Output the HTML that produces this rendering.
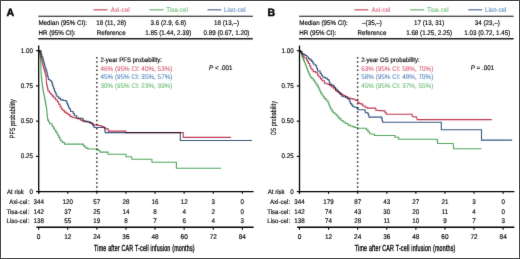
<!DOCTYPE html>
<html><head><meta charset="utf-8"><style>
html,body{margin:0;padding:0;background:#fff;width:520px;height:259px;overflow:hidden}
svg{display:block;will-change:transform}

text{font-family:"Liberation Sans",sans-serif;stroke-width:0.15px;text-rendering:geometricPrecision}
</style></head><body>
<svg width="520" height="259" viewBox="0 0 520 259">
<defs><filter id="bl" x="-5%" y="-5%" width="110%" height="110%"><feConvolveMatrix order="3" kernelMatrix="0.0064 0.0672 0.0064 0.0672 0.7056 0.0672 0.0064 0.0672 0.0064" edgeMode="none" preserveAlpha="false"/></filter></defs>
<rect x="0" y="0" width="520" height="259" fill="#fff"/>
<g filter="url(#bl)">
<text x="6.60" y="15.7" font-size="10.6" font-weight="bold" fill="#000" stroke="#000" style="stroke-width:0.45px">A</text>
<line x1="93.60" y1="9.8" x2="107.50" y2="9.8" stroke="#c9586f" stroke-width="1.3"/>
<text transform="translate(110.80,11.50) scale(0.935,1)" font-size="6.70" fill="#d55a74" stroke="#d55a74" style="stroke-width:0.08px">Axi-cel</text>
<line x1="149.40" y1="9.8" x2="163.50" y2="9.8" stroke="#78b67d" stroke-width="1.3"/>
<text transform="translate(166.20,11.50) scale(0.935,1)" font-size="6.70" fill="#6cbd74" stroke="#6cbd74" style="stroke-width:0.08px">Tisa-cel</text>
<line x1="207.50" y1="9.8" x2="221.30" y2="9.8" stroke="#5b7da2" stroke-width="1.3"/>
<text transform="translate(224.10,11.50) scale(0.935,1)" font-size="6.70" fill="#5587bd" stroke="#5587bd" style="stroke-width:0.08px">Liso-cel</text>
<line x1="38.30" y1="16.2" x2="252.80" y2="16.2" stroke="#111" stroke-width="1.1"/>
<line x1="38.30" y1="38.8" x2="252.80" y2="38.8" stroke="#222" stroke-width="1.5"/>
<text transform="translate(38.40,24.80) scale(0.935,1)" font-size="6.70" fill="#000" stroke="#000">Median (95% CI):</text>
<text transform="translate(38.40,34.50) scale(0.935,1)" font-size="6.70" fill="#000" stroke="#000">HR (95% CI):</text>
<text transform="translate(111.20,24.80) scale(0.935,1)" font-size="6.70" fill="#000" stroke="#000" text-anchor="middle">18 (11, 28)</text>
<text transform="translate(111.20,34.50) scale(0.935,1)" font-size="6.70" fill="#000" stroke="#000" text-anchor="middle">Reference</text>
<text transform="translate(168.30,24.80) scale(0.935,1)" font-size="6.70" fill="#000" stroke="#000" text-anchor="middle">3.6 (2.9, 6.8)</text>
<text transform="translate(168.30,34.50) scale(0.935,1)" font-size="6.70" fill="#000" stroke="#000" text-anchor="middle">1.85 (1.44, 2.39)</text>
<text transform="translate(226.50,24.80) scale(0.935,1)" font-size="6.70" fill="#000" stroke="#000" text-anchor="middle">18 (13,–)</text>
<text transform="translate(226.50,34.50) scale(0.935,1)" font-size="6.70" fill="#000" stroke="#000" text-anchor="middle">0.89 (0.67, 1.20)</text>
<line x1="38.70" y1="45.6" x2="38.70" y2="193.6" stroke="#000" stroke-width="1.3"/>
<line x1="36.00" y1="50.70" x2="38.70" y2="50.70" stroke="#000" stroke-width="1.1"/>
<text transform="translate(33.00,52.80) scale(0.935,1)" font-size="6.70" fill="#000" stroke="#000" text-anchor="end">1.00</text>
<line x1="36.00" y1="85.92" x2="38.70" y2="85.92" stroke="#000" stroke-width="1.1"/>
<text transform="translate(33.00,88.02) scale(0.935,1)" font-size="6.70" fill="#000" stroke="#000" text-anchor="end">0.75</text>
<line x1="36.00" y1="121.15" x2="38.70" y2="121.15" stroke="#000" stroke-width="1.1"/>
<text transform="translate(33.00,123.25) scale(0.935,1)" font-size="6.70" fill="#000" stroke="#000" text-anchor="end">0.50</text>
<line x1="36.00" y1="156.38" x2="38.70" y2="156.38" stroke="#000" stroke-width="1.1"/>
<text transform="translate(33.00,158.47) scale(0.935,1)" font-size="6.70" fill="#000" stroke="#000" text-anchor="end">0.25</text>
<line x1="36.00" y1="191.60" x2="38.70" y2="191.60" stroke="#000" stroke-width="1.1"/>
<text transform="translate(33.00,193.70) scale(0.935,1)" font-size="6.70" fill="#000" stroke="#000" text-anchor="end">0</text>
<line x1="38.20" y1="191.6" x2="253.60" y2="191.6" stroke="#000" stroke-width="1.4"/>
<line x1="36.40" y1="227.3" x2="253.60" y2="227.3" stroke="#000" stroke-width="1.4"/>
<line x1="38.65" y1="191.6" x2="38.65" y2="193.8" stroke="#000" stroke-width="1.1"/>
<line x1="38.65" y1="227.3" x2="38.65" y2="229.7" stroke="#000" stroke-width="1.1"/>
<text transform="translate(38.65,238.70) scale(0.935,1)" font-size="6.91" fill="#000" stroke="#000" text-anchor="middle">0</text>
<line x1="67.75" y1="191.6" x2="67.75" y2="193.8" stroke="#000" stroke-width="1.1"/>
<line x1="67.75" y1="227.3" x2="67.75" y2="229.7" stroke="#000" stroke-width="1.1"/>
<text transform="translate(67.75,238.70) scale(0.935,1)" font-size="6.91" fill="#000" stroke="#000" text-anchor="middle">12</text>
<line x1="96.85" y1="191.6" x2="96.85" y2="193.8" stroke="#000" stroke-width="1.1"/>
<line x1="96.85" y1="227.3" x2="96.85" y2="229.7" stroke="#000" stroke-width="1.1"/>
<text transform="translate(96.85,238.70) scale(0.935,1)" font-size="6.91" fill="#000" stroke="#000" text-anchor="middle">24</text>
<line x1="125.95" y1="191.6" x2="125.95" y2="193.8" stroke="#000" stroke-width="1.1"/>
<line x1="125.95" y1="227.3" x2="125.95" y2="229.7" stroke="#000" stroke-width="1.1"/>
<text transform="translate(125.95,238.70) scale(0.935,1)" font-size="6.91" fill="#000" stroke="#000" text-anchor="middle">36</text>
<line x1="155.05" y1="191.6" x2="155.05" y2="193.8" stroke="#000" stroke-width="1.1"/>
<line x1="155.05" y1="227.3" x2="155.05" y2="229.7" stroke="#000" stroke-width="1.1"/>
<text transform="translate(155.05,238.70) scale(0.935,1)" font-size="6.91" fill="#000" stroke="#000" text-anchor="middle">48</text>
<line x1="184.15" y1="191.6" x2="184.15" y2="193.8" stroke="#000" stroke-width="1.1"/>
<line x1="184.15" y1="227.3" x2="184.15" y2="229.7" stroke="#000" stroke-width="1.1"/>
<text transform="translate(184.15,238.70) scale(0.935,1)" font-size="6.91" fill="#000" stroke="#000" text-anchor="middle">60</text>
<line x1="213.25" y1="191.6" x2="213.25" y2="193.8" stroke="#000" stroke-width="1.1"/>
<line x1="213.25" y1="227.3" x2="213.25" y2="229.7" stroke="#000" stroke-width="1.1"/>
<text transform="translate(213.25,238.70) scale(0.935,1)" font-size="6.91" fill="#000" stroke="#000" text-anchor="middle">72</text>
<line x1="242.35" y1="191.6" x2="242.35" y2="193.8" stroke="#000" stroke-width="1.1"/>
<line x1="242.35" y1="227.3" x2="242.35" y2="229.7" stroke="#000" stroke-width="1.1"/>
<text transform="translate(242.35,238.70) scale(0.935,1)" font-size="6.91" fill="#000" stroke="#000" text-anchor="middle">84</text>
<text transform="translate(7.00,193.90) scale(0.935,1)" font-size="6.48" fill="#000" stroke="#000">At risk</text>
<text transform="translate(29.60,203.60) scale(0.935,1)" font-size="6.48" fill="#000" stroke="#000" text-anchor="end">Axi-cel<tspan dx="0.6">:</tspan></text>
<text transform="translate(38.65,203.60) scale(0.935,1)" font-size="6.70" fill="#000" stroke="#000" text-anchor="middle">344</text>
<text transform="translate(67.75,203.60) scale(0.935,1)" font-size="6.70" fill="#000" stroke="#000" text-anchor="middle">120</text>
<text transform="translate(96.85,203.60) scale(0.935,1)" font-size="6.70" fill="#000" stroke="#000" text-anchor="middle">57</text>
<text transform="translate(125.95,203.60) scale(0.935,1)" font-size="6.70" fill="#000" stroke="#000" text-anchor="middle">28</text>
<text transform="translate(155.05,203.60) scale(0.935,1)" font-size="6.70" fill="#000" stroke="#000" text-anchor="middle">16</text>
<text transform="translate(184.15,203.60) scale(0.935,1)" font-size="6.70" fill="#000" stroke="#000" text-anchor="middle">12</text>
<text transform="translate(213.25,203.60) scale(0.935,1)" font-size="6.70" fill="#000" stroke="#000" text-anchor="middle">3</text>
<text transform="translate(242.35,203.60) scale(0.935,1)" font-size="6.70" fill="#000" stroke="#000" text-anchor="middle">0</text>
<text transform="translate(29.60,213.50) scale(0.935,1)" font-size="6.48" fill="#000" stroke="#000" text-anchor="end">Tisa-cel<tspan dx="0.6">:</tspan></text>
<text transform="translate(38.65,213.50) scale(0.935,1)" font-size="6.70" fill="#000" stroke="#000" text-anchor="middle">142</text>
<text transform="translate(67.75,213.50) scale(0.935,1)" font-size="6.70" fill="#000" stroke="#000" text-anchor="middle">37</text>
<text transform="translate(96.85,213.50) scale(0.935,1)" font-size="6.70" fill="#000" stroke="#000" text-anchor="middle">25</text>
<text transform="translate(125.95,213.50) scale(0.935,1)" font-size="6.70" fill="#000" stroke="#000" text-anchor="middle">14</text>
<text transform="translate(155.05,213.50) scale(0.935,1)" font-size="6.70" fill="#000" stroke="#000" text-anchor="middle">8</text>
<text transform="translate(184.15,213.50) scale(0.935,1)" font-size="6.70" fill="#000" stroke="#000" text-anchor="middle">4</text>
<text transform="translate(213.25,213.50) scale(0.935,1)" font-size="6.70" fill="#000" stroke="#000" text-anchor="middle">2</text>
<text transform="translate(242.35,213.50) scale(0.935,1)" font-size="6.70" fill="#000" stroke="#000" text-anchor="middle">0</text>
<text transform="translate(29.60,223.40) scale(0.935,1)" font-size="6.48" fill="#000" stroke="#000" text-anchor="end">Liso-cel<tspan dx="0.6">:</tspan></text>
<text transform="translate(38.65,223.40) scale(0.935,1)" font-size="6.70" fill="#000" stroke="#000" text-anchor="middle">138</text>
<text transform="translate(67.75,223.40) scale(0.935,1)" font-size="6.70" fill="#000" stroke="#000" text-anchor="middle">55</text>
<text transform="translate(96.85,223.40) scale(0.935,1)" font-size="6.70" fill="#000" stroke="#000" text-anchor="middle">19</text>
<text transform="translate(125.95,223.40) scale(0.935,1)" font-size="6.70" fill="#000" stroke="#000" text-anchor="middle">8</text>
<text transform="translate(155.05,223.40) scale(0.935,1)" font-size="6.70" fill="#000" stroke="#000" text-anchor="middle">7</text>
<text transform="translate(184.15,223.40) scale(0.935,1)" font-size="6.70" fill="#000" stroke="#000" text-anchor="middle">6</text>
<text transform="translate(213.25,223.40) scale(0.935,1)" font-size="6.70" fill="#000" stroke="#000" text-anchor="middle">4</text>
<text transform="translate(242.35,223.40) scale(0.935,1)" font-size="6.70" fill="#000" stroke="#000" text-anchor="middle">3</text>
<text transform="translate(144.40,250.7) scale(0.61,1)" font-size="8.8" fill="#000" stroke="#000" style="stroke-width:0.35px;letter-spacing:0.3px" text-anchor="middle">Time after CAR T-cell infusion (months)</text>
<text transform="translate(15.30,118.75) rotate(-90) scale(0.7,1)" font-size="7.6" fill="#000" stroke="#000" style="stroke-width:0.15px;letter-spacing:0.3px" text-anchor="middle">PFS probability</text>
<line x1="96.85" y1="57.1" x2="96.85" y2="191" stroke="#2a2a2a" stroke-width="1.5" stroke-dasharray="1.5 2.67"/>
<text transform="translate(100.40,62.30) scale(0.935,1)" font-size="6.48" fill="#000" stroke="#000">2-year PFS probability:</text>
<text transform="translate(100.40,71.00) scale(0.935,1)" font-size="6.80" fill="#d55a74" stroke="#d55a74" style="stroke-width:0.08px">46% (95% CI: 40%, 53%)</text>
<text transform="translate(100.40,79.35) scale(0.935,1)" font-size="6.80" fill="#5587bd" stroke="#5587bd" style="stroke-width:0.08px">45% (95% CI: 35%, 57%)</text>
<text transform="translate(100.40,87.70) scale(0.935,1)" font-size="6.80" fill="#6cbd74" stroke="#6cbd74" style="stroke-width:0.08px">30% (95% CI: 23%, 39%)</text>
<text transform="translate(209.00,70.30) scale(0.935,1)" font-size="6.70" fill="#000" stroke="#000"><tspan font-style="italic">P</tspan> &lt; .001</text>
<polyline points="38.65,50.60 39.70,50.60 39.70,51.20 40.30,57.40 40.42,57.40 40.42,59.36 40.54,59.36 40.54,61.32 40.66,61.32 40.66,63.28 40.78,63.28 40.78,65.24 40.90,65.24 40.90,67.20 41.30,77.00 41.55,77.00 41.55,79.07 41.80,79.07 41.80,81.13 42.05,81.13 42.05,83.20 42.30,83.20 42.30,85.27 42.55,85.27 42.55,87.33 42.80,87.33 42.80,89.40 43.18,89.40 43.18,91.36 43.56,91.36 43.56,93.32 43.94,93.32 43.94,95.28 44.32,95.28 44.32,97.24 44.70,97.24 44.70,99.20 45.06,99.20 45.06,101.16 45.42,101.16 45.42,103.12 45.78,103.12 45.78,105.08 46.14,105.08 46.14,107.04 46.50,107.04 46.50,109.00 46.70,109.00 46.70,110.85 46.90,110.85 46.90,112.70 47.10,112.70 47.10,114.55 47.30,114.55 47.30,116.40 47.50,116.40 47.50,118.25 47.70,118.25 47.70,120.10 48.65,120.10 48.65,121.95 49.60,121.95 49.60,123.80 52.10,123.80 52.10,126.30 53.30,126.30 53.30,128.15 54.50,128.15 54.50,130.00 55.75,130.00 55.75,131.85 57.00,131.85 57.00,133.70 57.92,133.70 57.92,135.52 58.85,135.52 58.85,137.35 59.78,137.35 59.78,139.18 60.70,139.18 60.70,141.00 62.55,141.00 62.55,142.55 64.40,142.55 64.40,144.10 81.70,144.10 83.25,144.10 83.25,145.65 84.80,145.65 84.80,147.20 86.35,147.20 86.35,148.10 87.90,148.10 87.90,149.00 96.60,149.00 98.30,149.00 98.30,150.55 100.00,150.55 100.00,152.10 108.00,152.10 108.00,154.20 126.00,154.20 126.00,156.70 131.50,156.70 131.90,159.30 151.90,159.30 151.90,162.30 176.40,162.30 176.40,168.30 221.10,168.30" fill="none" stroke="#52a55c" stroke-width="1.1" stroke-linejoin="miter" style="mix-blend-mode:multiply"/>
<polyline points="38.65,50.60 39.70,50.60 39.70,52.40 40.30,52.40 40.30,54.90 40.90,54.90 40.90,57.40 41.55,57.40 41.55,59.85 42.20,59.85 42.20,62.30 42.60,62.30 42.60,64.15 43.00,64.15 43.00,66.00 43.50,66.00 43.50,67.85 44.00,67.85 44.00,69.70 44.65,69.70 44.65,71.85 45.30,71.85 45.30,74.00 45.70,74.00 45.70,75.50 46.10,75.50 46.10,77.00 46.60,84.40 47.07,84.40 47.07,86.60 47.53,86.60 47.53,88.80 48.00,88.80 48.00,91.00 49.40,91.00 49.40,92.75 50.80,92.75 50.80,94.50 52.30,94.50 52.30,96.15 53.80,96.15 53.80,97.80 55.50,97.80 55.50,99.80 57.20,99.80 57.20,101.80 58.65,101.80 58.65,104.25 60.10,104.25 60.10,106.70 61.30,106.70 61.30,109.00 62.85,109.00 62.85,110.55 64.40,110.55 64.40,112.10 66.25,112.10 66.25,113.35 68.10,113.35 68.10,114.60 70.00,114.60 70.00,116.40 71.55,116.40 71.55,117.05 73.10,117.05 73.10,117.70 75.55,117.70 75.55,118.30 78.00,118.30 78.00,118.90 80.50,118.90 80.50,120.15 83.00,120.15 83.00,121.40 87.90,122.00 90.40,122.00 90.40,123.25 92.90,123.25 92.90,124.50 96.60,125.10 98.20,125.10 98.20,125.45 99.80,125.45 99.80,125.80 101.35,125.80 101.35,126.40 102.90,126.40 102.90,127.00 104.45,127.00 104.45,127.95 106.00,127.95 106.00,128.90 108.30,128.90 108.30,131.10 124.80,131.10 125.60,131.10 125.60,132.60 183.20,132.60 183.20,137.40 230.90,137.40" fill="none" stroke="#c03a55" stroke-width="1.1" stroke-linejoin="miter" style="mix-blend-mode:multiply"/>
<polyline points="38.65,50.60 40.90,50.60 40.90,52.40 41.40,52.40 41.40,54.55 41.90,54.55 41.90,56.70 42.80,56.70 42.80,58.60 43.25,58.60 43.25,60.45 43.70,60.45 43.70,62.30 44.20,62.30 44.20,64.15 44.70,64.15 44.70,66.00 45.15,66.00 45.15,67.55 45.60,67.55 45.60,69.10 46.25,69.10 46.25,70.95 46.90,70.95 46.90,72.80 47.30,72.80 47.30,74.90 47.70,74.90 47.70,77.00 48.40,77.00 48.40,79.50 49.95,79.50 49.95,80.70 51.50,80.70 51.50,81.90 52.10,81.90 52.10,84.10 52.70,84.10 52.70,86.30 53.60,86.30 53.60,88.75 54.50,88.75 54.50,91.20 55.33,91.20 55.33,93.07 56.17,93.07 56.17,94.93 57.00,94.93 57.00,96.80 58.85,96.80 58.85,98.35 60.70,98.35 60.70,99.90 63.20,99.90 63.20,100.50 65.70,100.50 65.70,101.10 66.90,101.10 66.90,103.60 67.73,103.60 67.73,105.40 68.57,105.40 68.57,107.20 69.40,107.20 69.40,109.00 70.60,109.00 70.60,111.50 73.10,111.50 73.10,113.30 74.30,113.30 74.30,115.80 76.80,115.80 76.80,117.70 80.50,118.30 83.00,118.30 83.00,120.70 85.45,120.70 85.45,121.35 87.90,121.35 87.90,122.00 89.75,122.00 89.75,122.90 91.60,122.90 91.60,123.80 92.85,123.80 92.85,125.65 94.10,125.65 94.10,127.50 104.30,127.50 104.60,127.50 104.60,129.20 104.90,129.20 104.90,130.90 105.20,130.90 105.20,132.60 180.30,132.60 180.30,140.50 252.00,140.50" fill="none" stroke="#37597f" stroke-width="1.1" stroke-linejoin="miter" style="mix-blend-mode:multiply"/>
<text x="267.40" y="15.7" font-size="10.6" font-weight="bold" fill="#000" stroke="#000" style="stroke-width:0.45px">B</text>
<line x1="354.40" y1="9.8" x2="368.30" y2="9.8" stroke="#c9586f" stroke-width="1.3"/>
<text transform="translate(371.60,11.50) scale(0.935,1)" font-size="6.70" fill="#d55a74" stroke="#d55a74" style="stroke-width:0.08px">Axi-cel</text>
<line x1="410.20" y1="9.8" x2="424.30" y2="9.8" stroke="#78b67d" stroke-width="1.3"/>
<text transform="translate(427.00,11.50) scale(0.935,1)" font-size="6.70" fill="#6cbd74" stroke="#6cbd74" style="stroke-width:0.08px">Tisa-cel</text>
<line x1="468.30" y1="9.8" x2="482.10" y2="9.8" stroke="#5b7da2" stroke-width="1.3"/>
<text transform="translate(484.90,11.50) scale(0.935,1)" font-size="6.70" fill="#5587bd" stroke="#5587bd" style="stroke-width:0.08px">Liso-cel</text>
<line x1="299.10" y1="16.2" x2="513.60" y2="16.2" stroke="#111" stroke-width="1.1"/>
<line x1="299.10" y1="38.8" x2="513.60" y2="38.8" stroke="#222" stroke-width="1.5"/>
<text transform="translate(299.20,24.80) scale(0.935,1)" font-size="6.70" fill="#000" stroke="#000">Median (95% CI):</text>
<text transform="translate(299.20,34.50) scale(0.935,1)" font-size="6.70" fill="#000" stroke="#000">HR (95% CI):</text>
<text transform="translate(372.00,24.80) scale(0.935,1)" font-size="6.70" fill="#000" stroke="#000" text-anchor="middle">–(35,–)</text>
<text transform="translate(372.00,34.50) scale(0.935,1)" font-size="6.70" fill="#000" stroke="#000" text-anchor="middle">Reference</text>
<text transform="translate(429.10,24.80) scale(0.935,1)" font-size="6.70" fill="#000" stroke="#000" text-anchor="middle">17 (13, 31)</text>
<text transform="translate(429.10,34.50) scale(0.935,1)" font-size="6.70" fill="#000" stroke="#000" text-anchor="middle">1.68 (1.25, 2.25)</text>
<text transform="translate(487.30,24.80) scale(0.935,1)" font-size="6.70" fill="#000" stroke="#000" text-anchor="middle">34 (23,–)</text>
<text transform="translate(487.30,34.50) scale(0.935,1)" font-size="6.70" fill="#000" stroke="#000" text-anchor="middle">1.03 (0.72, 1.45)</text>
<line x1="299.50" y1="45.6" x2="299.50" y2="193.6" stroke="#000" stroke-width="1.3"/>
<line x1="296.80" y1="50.70" x2="299.50" y2="50.70" stroke="#000" stroke-width="1.1"/>
<text transform="translate(293.80,52.80) scale(0.935,1)" font-size="6.70" fill="#000" stroke="#000" text-anchor="end">1.00</text>
<line x1="296.80" y1="85.92" x2="299.50" y2="85.92" stroke="#000" stroke-width="1.1"/>
<text transform="translate(293.80,88.02) scale(0.935,1)" font-size="6.70" fill="#000" stroke="#000" text-anchor="end">0.75</text>
<line x1="296.80" y1="121.15" x2="299.50" y2="121.15" stroke="#000" stroke-width="1.1"/>
<text transform="translate(293.80,123.25) scale(0.935,1)" font-size="6.70" fill="#000" stroke="#000" text-anchor="end">0.50</text>
<line x1="296.80" y1="156.38" x2="299.50" y2="156.38" stroke="#000" stroke-width="1.1"/>
<text transform="translate(293.80,158.47) scale(0.935,1)" font-size="6.70" fill="#000" stroke="#000" text-anchor="end">0.25</text>
<line x1="296.80" y1="191.60" x2="299.50" y2="191.60" stroke="#000" stroke-width="1.1"/>
<text transform="translate(293.80,193.70) scale(0.935,1)" font-size="6.70" fill="#000" stroke="#000" text-anchor="end">0</text>
<line x1="299.00" y1="191.6" x2="514.40" y2="191.6" stroke="#000" stroke-width="1.4"/>
<line x1="297.20" y1="227.3" x2="514.40" y2="227.3" stroke="#000" stroke-width="1.4"/>
<line x1="299.45" y1="191.6" x2="299.45" y2="193.8" stroke="#000" stroke-width="1.1"/>
<line x1="299.45" y1="227.3" x2="299.45" y2="229.7" stroke="#000" stroke-width="1.1"/>
<text transform="translate(299.45,238.70) scale(0.935,1)" font-size="6.91" fill="#000" stroke="#000" text-anchor="middle">0</text>
<line x1="328.55" y1="191.6" x2="328.55" y2="193.8" stroke="#000" stroke-width="1.1"/>
<line x1="328.55" y1="227.3" x2="328.55" y2="229.7" stroke="#000" stroke-width="1.1"/>
<text transform="translate(328.55,238.70) scale(0.935,1)" font-size="6.91" fill="#000" stroke="#000" text-anchor="middle">12</text>
<line x1="357.65" y1="191.6" x2="357.65" y2="193.8" stroke="#000" stroke-width="1.1"/>
<line x1="357.65" y1="227.3" x2="357.65" y2="229.7" stroke="#000" stroke-width="1.1"/>
<text transform="translate(357.65,238.70) scale(0.935,1)" font-size="6.91" fill="#000" stroke="#000" text-anchor="middle">24</text>
<line x1="386.75" y1="191.6" x2="386.75" y2="193.8" stroke="#000" stroke-width="1.1"/>
<line x1="386.75" y1="227.3" x2="386.75" y2="229.7" stroke="#000" stroke-width="1.1"/>
<text transform="translate(386.75,238.70) scale(0.935,1)" font-size="6.91" fill="#000" stroke="#000" text-anchor="middle">36</text>
<line x1="415.85" y1="191.6" x2="415.85" y2="193.8" stroke="#000" stroke-width="1.1"/>
<line x1="415.85" y1="227.3" x2="415.85" y2="229.7" stroke="#000" stroke-width="1.1"/>
<text transform="translate(415.85,238.70) scale(0.935,1)" font-size="6.91" fill="#000" stroke="#000" text-anchor="middle">48</text>
<line x1="444.95" y1="191.6" x2="444.95" y2="193.8" stroke="#000" stroke-width="1.1"/>
<line x1="444.95" y1="227.3" x2="444.95" y2="229.7" stroke="#000" stroke-width="1.1"/>
<text transform="translate(444.95,238.70) scale(0.935,1)" font-size="6.91" fill="#000" stroke="#000" text-anchor="middle">60</text>
<line x1="474.05" y1="191.6" x2="474.05" y2="193.8" stroke="#000" stroke-width="1.1"/>
<line x1="474.05" y1="227.3" x2="474.05" y2="229.7" stroke="#000" stroke-width="1.1"/>
<text transform="translate(474.05,238.70) scale(0.935,1)" font-size="6.91" fill="#000" stroke="#000" text-anchor="middle">72</text>
<line x1="503.15" y1="191.6" x2="503.15" y2="193.8" stroke="#000" stroke-width="1.1"/>
<line x1="503.15" y1="227.3" x2="503.15" y2="229.7" stroke="#000" stroke-width="1.1"/>
<text transform="translate(503.15,238.70) scale(0.935,1)" font-size="6.91" fill="#000" stroke="#000" text-anchor="middle">84</text>
<text transform="translate(267.80,193.90) scale(0.935,1)" font-size="6.48" fill="#000" stroke="#000">At risk</text>
<text transform="translate(290.40,203.60) scale(0.935,1)" font-size="6.48" fill="#000" stroke="#000" text-anchor="end">Axi-cel<tspan dx="0.6">:</tspan></text>
<text transform="translate(299.45,203.60) scale(0.935,1)" font-size="6.70" fill="#000" stroke="#000" text-anchor="middle">344</text>
<text transform="translate(328.55,203.60) scale(0.935,1)" font-size="6.70" fill="#000" stroke="#000" text-anchor="middle">179</text>
<text transform="translate(357.65,203.60) scale(0.935,1)" font-size="6.70" fill="#000" stroke="#000" text-anchor="middle">87</text>
<text transform="translate(386.75,203.60) scale(0.935,1)" font-size="6.70" fill="#000" stroke="#000" text-anchor="middle">43</text>
<text transform="translate(415.85,203.60) scale(0.935,1)" font-size="6.70" fill="#000" stroke="#000" text-anchor="middle">27</text>
<text transform="translate(444.95,203.60) scale(0.935,1)" font-size="6.70" fill="#000" stroke="#000" text-anchor="middle">21</text>
<text transform="translate(474.05,203.60) scale(0.935,1)" font-size="6.70" fill="#000" stroke="#000" text-anchor="middle">3</text>
<text transform="translate(503.15,203.60) scale(0.935,1)" font-size="6.70" fill="#000" stroke="#000" text-anchor="middle">0</text>
<text transform="translate(290.40,213.50) scale(0.935,1)" font-size="6.48" fill="#000" stroke="#000" text-anchor="end">Tisa-cel<tspan dx="0.6">:</tspan></text>
<text transform="translate(299.45,213.50) scale(0.935,1)" font-size="6.70" fill="#000" stroke="#000" text-anchor="middle">142</text>
<text transform="translate(328.55,213.50) scale(0.935,1)" font-size="6.70" fill="#000" stroke="#000" text-anchor="middle">74</text>
<text transform="translate(357.65,213.50) scale(0.935,1)" font-size="6.70" fill="#000" stroke="#000" text-anchor="middle">43</text>
<text transform="translate(386.75,213.50) scale(0.935,1)" font-size="6.70" fill="#000" stroke="#000" text-anchor="middle">30</text>
<text transform="translate(415.85,213.50) scale(0.935,1)" font-size="6.70" fill="#000" stroke="#000" text-anchor="middle">20</text>
<text transform="translate(444.95,213.50) scale(0.935,1)" font-size="6.70" fill="#000" stroke="#000" text-anchor="middle">11</text>
<text transform="translate(474.05,213.50) scale(0.935,1)" font-size="6.70" fill="#000" stroke="#000" text-anchor="middle">4</text>
<text transform="translate(503.15,213.50) scale(0.935,1)" font-size="6.70" fill="#000" stroke="#000" text-anchor="middle">0</text>
<text transform="translate(290.40,223.40) scale(0.935,1)" font-size="6.48" fill="#000" stroke="#000" text-anchor="end">Liso-cel<tspan dx="0.6">:</tspan></text>
<text transform="translate(299.45,223.40) scale(0.935,1)" font-size="6.70" fill="#000" stroke="#000" text-anchor="middle">138</text>
<text transform="translate(328.55,223.40) scale(0.935,1)" font-size="6.70" fill="#000" stroke="#000" text-anchor="middle">74</text>
<text transform="translate(357.65,223.40) scale(0.935,1)" font-size="6.70" fill="#000" stroke="#000" text-anchor="middle">28</text>
<text transform="translate(386.75,223.40) scale(0.935,1)" font-size="6.70" fill="#000" stroke="#000" text-anchor="middle">11</text>
<text transform="translate(415.85,223.40) scale(0.935,1)" font-size="6.70" fill="#000" stroke="#000" text-anchor="middle">10</text>
<text transform="translate(444.95,223.40) scale(0.935,1)" font-size="6.70" fill="#000" stroke="#000" text-anchor="middle">9</text>
<text transform="translate(474.05,223.40) scale(0.935,1)" font-size="6.70" fill="#000" stroke="#000" text-anchor="middle">7</text>
<text transform="translate(503.15,223.40) scale(0.935,1)" font-size="6.70" fill="#000" stroke="#000" text-anchor="middle">3</text>
<text transform="translate(405.20,250.7) scale(0.61,1)" font-size="8.8" fill="#000" stroke="#000" style="stroke-width:0.35px;letter-spacing:0.3px" text-anchor="middle">Time after CAR T-cell infusion (months)</text>
<text transform="translate(276.10,118.1) rotate(-90) scale(0.665,1)" font-size="7.6" fill="#000" stroke="#000" style="stroke-width:0.15px;letter-spacing:0.3px" text-anchor="middle">OS probability</text>
<line x1="357.65" y1="57.1" x2="357.65" y2="191" stroke="#2a2a2a" stroke-width="1.5" stroke-dasharray="1.5 2.67"/>
<text transform="translate(361.20,62.30) scale(0.935,1)" font-size="6.48" fill="#000" stroke="#000">2-year OS probability:</text>
<text transform="translate(361.20,71.00) scale(0.935,1)" font-size="6.80" fill="#d55a74" stroke="#d55a74" style="stroke-width:0.08px">63% (95% CI: 58%, 70%)</text>
<text transform="translate(361.20,79.35) scale(0.935,1)" font-size="6.80" fill="#5587bd" stroke="#5587bd" style="stroke-width:0.08px">58% (95% CI: 48%, 70%)</text>
<text transform="translate(361.20,87.70) scale(0.935,1)" font-size="6.80" fill="#6cbd74" stroke="#6cbd74" style="stroke-width:0.08px">45% (95% CI: 37%, 55%)</text>
<text transform="translate(470.70,70.30) scale(0.935,1)" font-size="6.70" fill="#000" stroke="#000"><tspan font-style="italic">P</tspan> = .001</text>
<polyline points="299.20,50.60 300.30,50.60 300.30,51.20 300.93,51.20 300.93,53.05 301.55,53.05 301.55,54.90 302.18,54.90 302.18,56.75 302.80,56.75 302.80,58.60 303.63,58.60 303.63,60.67 304.47,60.67 304.47,62.73 305.30,62.73 305.30,64.80 306.10,64.80 306.10,66.87 306.90,66.87 306.90,68.93 307.70,68.93 307.70,71.00 308.53,71.00 308.53,73.00 309.37,73.00 309.37,75.00 310.20,75.00 310.20,77.00 311.75,77.00 311.75,78.55 313.30,78.55 313.30,80.10 314.52,80.10 314.52,81.95 315.75,81.95 315.75,83.80 316.98,83.80 316.98,85.65 318.20,85.65 318.20,87.50 319.03,87.50 319.03,89.37 319.87,89.37 319.87,91.23 320.70,91.23 320.70,93.10 321.93,93.10 321.93,94.93 323.17,94.93 323.17,96.77 324.40,96.77 324.40,98.60 326.25,98.60 326.25,100.80 328.10,100.80 328.10,103.00 328.93,103.00 328.93,105.00 329.77,105.00 329.77,107.00 330.60,107.00 330.60,109.00 331.85,109.00 331.85,110.85 333.10,110.85 333.10,112.70 334.95,112.70 334.95,114.25 336.80,114.25 336.80,115.80 338.05,115.80 338.05,117.35 339.30,117.35 339.30,118.90 341.15,118.90 341.15,120.45 343.00,120.45 343.00,122.00 345.45,122.00 345.45,123.55 347.90,123.55 347.90,125.10 350.40,125.10 350.40,126.00 352.90,126.00 352.90,126.90 355.35,126.90 355.35,127.55 357.80,127.55 357.80,128.20 364.00,128.20 366.50,128.20 366.50,129.90 368.05,129.90 368.05,131.75 369.60,131.75 369.60,133.60 373.30,134.20 374.50,134.20 374.50,135.50 393.70,135.50 394.90,135.50 394.90,137.30 397.40,137.30 398.60,137.30 398.60,139.30 437.00,139.30 437.30,139.30 437.30,141.40 437.60,141.40 437.60,143.50 453.10,143.50 453.70,148.70 481.30,148.70" fill="none" stroke="#52a55c" stroke-width="1.1" stroke-linejoin="miter" style="mix-blend-mode:multiply"/>
<polyline points="299.20,50.60 300.30,50.60 300.30,51.80 301.55,51.80 301.55,53.95 302.80,53.95 302.80,56.10 304.00,56.10 304.00,58.00 306.50,58.00 306.50,59.80 307.45,59.80 307.45,61.65 308.40,61.65 308.40,63.50 309.60,63.50 309.60,66.00 310.80,66.00 310.80,68.50 312.05,68.50 312.05,70.05 313.30,70.05 313.30,71.60 315.80,71.60 315.80,72.80 317.60,72.80 317.60,75.30 318.90,75.30 318.90,77.00 320.45,77.00 320.45,78.85 322.00,78.85 322.00,80.70 324.40,80.70 324.40,83.20 326.25,83.20 326.25,83.80 328.10,83.80 328.10,84.40 329.95,84.40 329.95,85.65 331.80,85.65 331.80,86.90 333.70,86.90 333.70,88.75 335.60,88.75 335.60,90.60 337.45,90.60 337.45,91.85 339.30,91.85 339.30,93.10 341.15,93.10 341.15,94.30 343.00,94.30 343.00,95.50 345.45,95.50 345.45,96.75 347.90,96.75 347.90,98.00 350.40,98.00 350.40,98.60 352.90,98.60 352.90,99.20 355.30,99.20 355.30,100.50 357.90,100.50 357.90,102.90 359.40,102.90 359.40,103.50 360.90,103.50 360.90,104.10 362.80,104.10 362.80,106.00 365.30,106.00 365.30,107.20 367.10,107.20 367.10,108.10 374.50,108.10 375.80,108.10 375.80,110.30 377.65,110.30 377.65,110.45 379.50,110.45 379.50,110.60 381.35,110.60 381.35,110.75 383.20,110.75 383.20,110.90 385.00,110.90 385.00,112.80 386.30,112.80 386.30,114.30 411.00,114.30 412.20,114.30 412.20,116.50 416.60,117.10 417.20,119.60 491.80,119.60" fill="none" stroke="#c03a55" stroke-width="1.1" stroke-linejoin="miter" style="mix-blend-mode:multiply"/>
<polyline points="299.20,50.60 300.70,50.60 300.70,52.15 302.20,52.15 302.20,53.70 303.75,53.70 303.75,54.60 305.30,54.60 305.30,55.50 306.85,55.50 306.85,57.05 308.40,57.05 308.40,58.60 309.95,58.60 309.95,59.85 311.50,59.85 311.50,61.10 312.70,61.10 312.70,62.95 313.90,62.95 313.90,64.80 315.80,64.80 315.80,66.00 316.70,66.00 316.70,68.50 317.60,68.50 317.60,71.00 320.10,71.00 320.10,73.40 321.35,73.40 321.35,75.20 322.60,75.20 322.60,77.00 324.15,77.00 324.15,77.60 325.70,77.60 325.70,78.20 327.25,78.20 327.25,79.45 328.80,79.45 328.80,80.70 329.40,80.70 329.40,82.55 330.00,82.55 330.00,84.40 331.55,84.40 331.55,85.05 333.10,85.05 333.10,85.70 334.35,85.70 334.35,87.55 335.60,87.55 335.60,89.40 337.10,89.40 337.10,90.95 338.60,90.95 338.60,92.50 340.15,92.50 340.15,94.35 341.70,94.35 341.70,96.20 343.55,96.20 343.55,96.80 345.40,96.80 345.40,97.40 347.30,97.40 347.30,98.65 349.20,98.65 349.20,99.90 349.80,99.90 349.80,101.75 350.40,101.75 350.40,103.60 351.65,103.60 351.65,105.15 352.90,105.15 352.90,106.70 354.75,106.70 354.75,107.30 356.60,107.30 356.60,107.90 357.90,107.90 357.90,109.70 364.70,109.70 365.00,109.70 365.00,111.25 365.30,111.25 365.30,112.80 367.70,112.80 367.70,113.40 368.35,113.40 368.35,115.25 369.00,115.25 369.00,117.10 381.30,117.10 381.73,117.10 381.73,118.83 382.17,118.83 382.17,120.57 382.60,120.57 382.60,122.30 441.30,122.30 441.30,129.80 481.50,129.80 481.50,140.10 512.20,140.10" fill="none" stroke="#37597f" stroke-width="1.1" stroke-linejoin="miter" style="mix-blend-mode:multiply"/>
</g>
<rect x="0.5" y="0.5" width="519" height="258" fill="none" stroke="#4a4a4a" stroke-width="1"/>
</svg>
</body></html>
